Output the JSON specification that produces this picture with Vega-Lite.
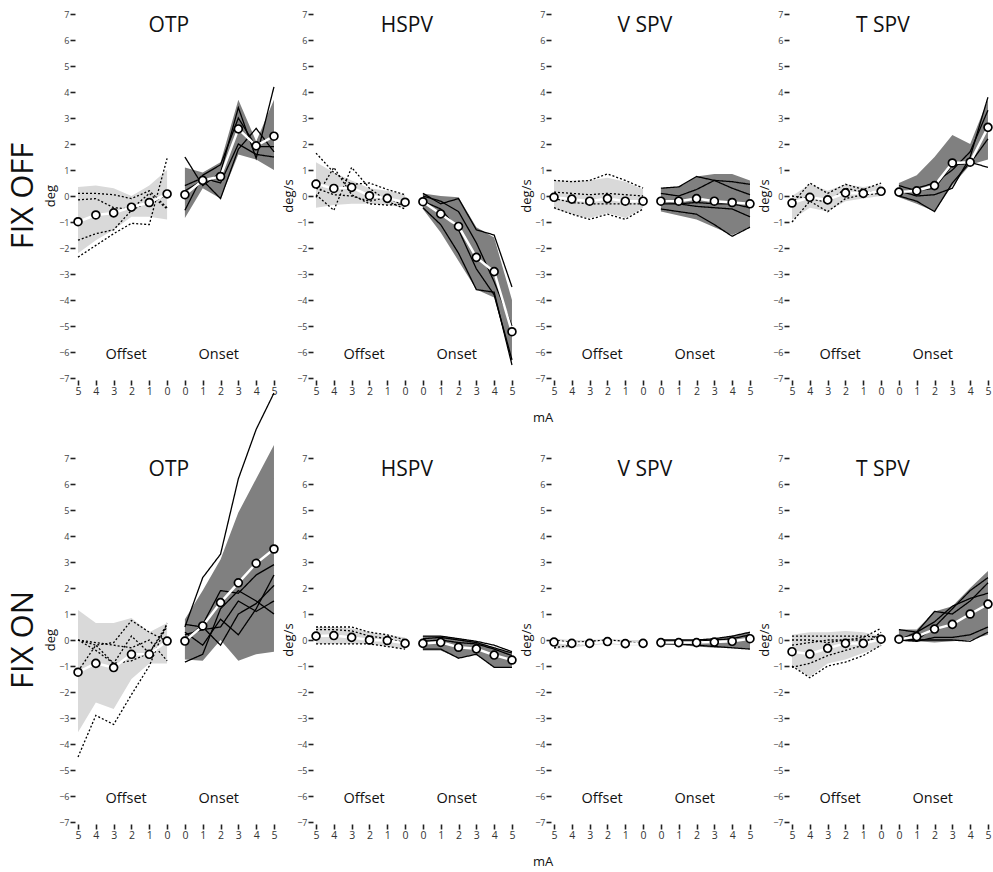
{
"$schema": "https://vega.github.io/schema/vega-lite/v6.json",
"padding": {"left": 7, "top": 10, "right": 5, "bottom": 5},
"background": "white",
"config": {"font": "Open Sans", "view": {"stroke": null},
 "axisY": {"values": [-7,-6,-5,-4,-3,-2,-1,0,1,2,3,4,5,6,7], "domain": false, "grid": false, "tickSize": 5, "tickWidth": 1.6, "tickColor": "#222", "labelFontSize": 9, "labelColor": "#444", "labelPadding": 1}
},
"datasets": {"d": [
{"c":"OFF","p":"OTP","s":"off","x":0,"m":-0.99,"lo":-2.2,"hi":0.35,"l1":0.1,"l2":-0.15,"l3":-1.7,"l4":-2.35},
{"c":"OFF","p":"OTP","s":"off","x":1,"m":-0.73,"lo":-1.7,"hi":0.4,"l1":0.1,"l2":-0.1,"l3":-1.45,"l4":-1.9},
{"c":"OFF","p":"OTP","s":"off","x":2,"m":-0.65,"lo":-1.3,"hi":0.3,"l1":0.05,"l2":-0.45,"l3":-1.3,"l4":-1.45},
{"c":"OFF","p":"OTP","s":"off","x":3,"m":-0.43,"lo":-0.8,"hi":0.0,"l1":-0.1,"l2":-0.5,"l3":-0.55,"l4":-1.05},
{"c":"OFF","p":"OTP","s":"off","x":4,"m":-0.25,"lo":-0.8,"hi":0.4,"l1":0.2,"l2":0.1,"l3":-0.2,"l4":-1.1},
{"c":"OFF","p":"OTP","s":"off","x":5,"m":0.08,"lo":-0.9,"hi":1.0,"l1":-0.45,"l2":-0.5,"l3":0.0,"l4":1.45},
{"c":"OFF","p":"OTP","s":"on","x":6,"m":0.05,"lo":-0.85,"hi":1.1,"l1":1.5,"l2":-0.55,"l3":0.2,"l4":0.4},
{"c":"OFF","p":"OTP","s":"on","x":7,"m":0.6,"lo":0.3,"hi":0.9,"l1":0.4,"l2":0.8,"l3":0.6,"l4":0.7},
{"c":"OFF","p":"OTP","s":"on","x":8,"m":0.75,"lo":-0.1,"hi":1.3,"l1":0.9,"l2":1.2,"l3":-0.1,"l4":0.5},
{"c":"OFF","p":"OTP","s":"on","x":9,"m":2.58,"lo":1.6,"hi":3.7,"l1":3.4,"l2":3.0,"l3":1.8,"l4":2.0},
{"c":"OFF","p":"OTP","s":"on","x":10,"m":1.93,"lo":1.4,"hi":2.1,"l1":1.45,"l2":1.9,"l3":2.6,"l4":1.6},
{"c":"OFF","p":"OTP","s":"on","x":11,"m":2.3,"lo":1.0,"hi":3.7,"l1":4.2,"l2":1.9,"l3":1.7,"l4":1.5},
{"c":"OFF","p":"HSPV","s":"off","x":0,"m":0.46,"lo":-0.45,"hi":1.3,"l1":1.65,"l2":0.05,"l3":-0.05,"l4":0.3},
{"c":"OFF","p":"HSPV","s":"off","x":1,"m":0.29,"lo":-0.35,"hi":0.9,"l1":0.9,"l2":-0.55,"l3":1.1,"l4":0.05},
{"c":"OFF","p":"HSPV","s":"off","x":2,"m":0.33,"lo":-0.3,"hi":0.6,"l1":0.45,"l2":1.1,"l3":0.05,"l4":0.0},
{"c":"OFF","p":"HSPV","s":"off","x":3,"m":0.01,"lo":-0.3,"hi":0.3,"l1":0.5,"l2":0.3,"l3":-0.3,"l4":-0.2},
{"c":"OFF","p":"HSPV","s":"off","x":4,"m":-0.09,"lo":-0.35,"hi":0.2,"l1":0.25,"l2":-0.2,"l3":-0.35,"l4":-0.05},
{"c":"OFF","p":"HSPV","s":"off","x":5,"m":-0.24,"lo":-0.45,"hi":0.05,"l1":0.05,"l2":-0.5,"l3":-0.3,"l4":-0.4},
{"c":"OFF","p":"HSPV","s":"on","x":6,"m":-0.22,"lo":-0.5,"hi":0.1,"l1":0.1,"l2":-0.2,"l3":-0.45,"l4":0.0},
{"c":"OFF","p":"HSPV","s":"on","x":7,"m":-0.69,"lo":-1.4,"hi":0.0,"l1":-0.3,"l2":-0.5,"l3":-1.1,"l4":-0.2},
{"c":"OFF","p":"HSPV","s":"on","x":8,"m":-1.17,"lo":-2.5,"hi":-0.05,"l1":-0.1,"l2":-1.3,"l3":-2.2,"l4":-0.6},
{"c":"OFF","p":"HSPV","s":"on","x":9,"m":-2.36,"lo":-3.6,"hi":-1.2,"l1":-1.3,"l2":-2.8,"l3":-3.6,"l4":-1.8},
{"c":"OFF","p":"HSPV","s":"on","x":10,"m":-2.91,"lo":-3.9,"hi":-1.6,"l1":-1.5,"l2":-3.8,"l3":-3.7,"l4":-3.3},
{"c":"OFF","p":"HSPV","s":"on","x":11,"m":-5.22,"lo":-6.4,"hi":-4.0,"l1":-3.5,"l2":-6.3,"l3":-6.5,"l4":-5.0},
{"c":"OFF","p":"V SPV","s":"off","x":0,"m":-0.05,"lo":-0.5,"hi":0.6,"l1":0.6,"l2":0.15,"l3":-0.1,"l4":-0.45},
{"c":"OFF","p":"V SPV","s":"off","x":1,"m":-0.12,"lo":-0.7,"hi":0.6,"l1":0.55,"l2":0.1,"l3":-0.25,"l4":-0.7},
{"c":"OFF","p":"V SPV","s":"off","x":2,"m":-0.2,"lo":-0.85,"hi":0.6,"l1":0.6,"l2":0.05,"l3":-0.3,"l4":-0.9},
{"c":"OFF","p":"V SPV","s":"off","x":3,"m":-0.1,"lo":-0.65,"hi":0.7,"l1":0.85,"l2":0.1,"l3":-0.3,"l4":-0.7},
{"c":"OFF","p":"V SPV","s":"off","x":4,"m":-0.2,"lo":-0.85,"hi":0.55,"l1":0.6,"l2":0.05,"l3":-0.3,"l4":-0.9},
{"c":"OFF","p":"V SPV","s":"off","x":5,"m":-0.2,"lo":-0.45,"hi":0.25,"l1":0.3,"l2":0.0,"l3":-0.3,"l4":-0.5},
{"c":"OFF","p":"V SPV","s":"on","x":6,"m":-0.2,"lo":-0.6,"hi":0.3,"l1":0.3,"l2":0.1,"l3":-0.3,"l4":-0.5,"l5":-0.2},
{"c":"OFF","p":"V SPV","s":"on","x":7,"m":-0.2,"lo":-0.75,"hi":0.35,"l1":0.35,"l2":0.0,"l3":-0.3,"l4":-0.6,"l5":-0.3},
{"c":"OFF","p":"V SPV","s":"on","x":8,"m":-0.1,"lo":-0.9,"hi":0.75,"l1":0.75,"l2":0.25,"l3":-0.25,"l4":-0.7,"l5":-0.4},
{"c":"OFF","p":"V SPV","s":"on","x":9,"m":-0.2,"lo":-1.2,"hi":0.85,"l1":0.6,"l2":0.6,"l3":-0.3,"l4":-1.1,"l5":-0.45},
{"c":"OFF","p":"V SPV","s":"on","x":10,"m":-0.25,"lo":-1.5,"hi":0.85,"l1":0.55,"l2":0.3,"l3":-0.3,"l4":-1.55,"l5":-0.5},
{"c":"OFF","p":"V SPV","s":"on","x":11,"m":-0.3,"lo":-1.2,"hi":0.6,"l1":0.45,"l2":0.05,"l3":-0.45,"l4":-1.2,"l5":-0.8},
{"c":"OFF","p":"T SPV","s":"off","x":0,"m":-0.27,"lo":-0.9,"hi":0.0,"l1":-1.0,"l2":-0.3,"l3":0.0},
{"c":"OFF","p":"T SPV","s":"off","x":1,"m":-0.05,"lo":-0.45,"hi":0.45,"l1":-0.2,"l2":0.5,"l3":-0.1},
{"c":"OFF","p":"T SPV","s":"off","x":2,"m":-0.15,"lo":-0.6,"hi":0.2,"l1":-0.6,"l2":0.1,"l3":-0.25},
{"c":"OFF","p":"T SPV","s":"off","x":3,"m":0.12,"lo":-0.2,"hi":0.45,"l1":-0.1,"l2":0.45,"l3":0.3},
{"c":"OFF","p":"T SPV","s":"off","x":4,"m":0.1,"lo":-0.1,"hi":0.35,"l1":0.05,"l2":0.25,"l3":0.15},
{"c":"OFF","p":"T SPV","s":"off","x":5,"m":0.18,"lo":0.0,"hi":0.45,"l1":0.1,"l2":0.5,"l3":0.15},
{"c":"OFF","p":"T SPV","s":"on","x":6,"m":0.15,"lo":-0.05,"hi":0.5,"l1":0.0,"l2":0.2,"l3":0.1,"l4":0.4},
{"c":"OFF","p":"T SPV","s":"on","x":7,"m":0.2,"lo":-0.3,"hi":0.8,"l1":-0.2,"l2":0.0,"l3":0.3,"l4":0.2},
{"c":"OFF","p":"T SPV","s":"on","x":8,"m":0.4,"lo":-0.6,"hi":1.5,"l1":-0.6,"l2":0.05,"l3":0.5,"l4":0.3},
{"c":"OFF","p":"T SPV","s":"on","x":9,"m":1.27,"lo":0.4,"hi":2.35,"l1":0.5,"l2":0.3,"l3":1.0,"l4":1.2},
{"c":"OFF","p":"T SPV","s":"on","x":10,"m":1.3,"lo":1.2,"hi":2.0,"l1":1.3,"l2":1.5,"l3":1.7,"l4":1.25},
{"c":"OFF","p":"T SPV","s":"on","x":11,"m":2.64,"lo":1.4,"hi":3.7,"l1":1.1,"l2":3.8,"l3":3.3,"l4":2.2},
{"c":"ON","p":"OTP","s":"off","x":0,"m":-1.24,"lo":-3.55,"hi":1.15,"l1":-4.5,"l2":0.0,"l3":-1.2,"l4":0.0,"l5":0.0},
{"c":"ON","p":"OTP","s":"off","x":1,"m":-0.9,"lo":-2.4,"hi":0.65,"l1":-2.9,"l2":-0.2,"l3":-0.2,"l4":-0.4,"l5":-0.1},
{"c":"ON","p":"OTP","s":"off","x":2,"m":-1.06,"lo":-2.65,"hi":0.65,"l1":-3.25,"l2":-0.1,"l3":-0.9,"l4":-0.9,"l5":-0.2},
{"c":"ON","p":"OTP","s":"off","x":3,"m":-0.55,"lo":-1.5,"hi":0.85,"l1":-2.1,"l2":0.75,"l3":0.15,"l4":-0.8,"l5":-0.3},
{"c":"ON","p":"OTP","s":"off","x":4,"m":-0.55,"lo":-0.9,"hi":0.3,"l1":-1.0,"l2":0.3,"l3":-0.5,"l4":-0.5,"l5":0.0},
{"c":"ON","p":"OTP","s":"off","x":5,"m":-0.04,"lo":-0.9,"hi":0.65,"l1":0.65,"l2":-0.05,"l3":0.6,"l4":0.5,"l5":-0.8},
{"c":"ON","p":"OTP","s":"on","x":6,"m":-0.04,"lo":-0.75,"hi":0.8,"l1":0.5,"l2":-0.85,"l3":0.6,"l4":0.3,"l5":0.0,"l6":0.2},
{"c":"ON","p":"OTP","s":"on","x":7,"m":0.54,"lo":-0.8,"hi":1.9,"l1":2.4,"l2":-0.55,"l3":0.5,"l4":-0.2,"l5":0.6,"l6":0.4},
{"c":"ON","p":"OTP","s":"on","x":8,"m":1.44,"lo":0.0,"hi":3.1,"l1":3.3,"l2":1.2,"l3":-0.2,"l4":0.8,"l5":1.9,"l6":0.5},
{"c":"ON","p":"OTP","s":"on","x":9,"m":2.2,"lo":-0.8,"hi":4.9,"l1":6.2,"l2":1.9,"l3":1.0,"l4":0.2,"l5":1.8,"l6":1.5},
{"c":"ON","p":"OTP","s":"on","x":10,"m":2.95,"lo":-0.55,"hi":6.2,"l1":8.1,"l2":1.5,"l3":1.4,"l4":1.2,"l5":2.5,"l6":1.1},
{"c":"ON","p":"OTP","s":"on","x":11,"m":3.5,"lo":-0.45,"hi":7.5,"l1":9.5,"l2":1.0,"l3":2.1,"l4":2.5,"l5":2.9,"l6":1.5},
{"c":"ON","p":"HSPV","s":"off","x":0,"m":0.15,"lo":-0.15,"hi":0.5,"l1":0.5,"l2":0.4,"l3":-0.15},
{"c":"ON","p":"HSPV","s":"off","x":1,"m":0.17,"lo":-0.15,"hi":0.5,"l1":0.5,"l2":0.4,"l3":-0.15},
{"c":"ON","p":"HSPV","s":"off","x":2,"m":0.1,"lo":-0.15,"hi":0.45,"l1":0.5,"l2":0.35,"l3":-0.15},
{"c":"ON","p":"HSPV","s":"off","x":3,"m":0.0,"lo":-0.15,"hi":0.3,"l1":0.3,"l2":0.15,"l3":-0.15},
{"c":"ON","p":"HSPV","s":"off","x":4,"m":-0.02,"lo":-0.25,"hi":0.2,"l1":0.2,"l2":0.05,"l3":-0.25},
{"c":"ON","p":"HSPV","s":"off","x":5,"m":-0.13,"lo":-0.35,"hi":0.1,"l1":0.0,"l2":-0.1,"l3":-0.35},
{"c":"ON","p":"HSPV","s":"on","x":6,"m":-0.13,"lo":-0.4,"hi":0.15,"l1":0.15,"l2":-0.05,"l3":-0.35,"l4":0.05},
{"c":"ON","p":"HSPV","s":"on","x":7,"m":-0.09,"lo":-0.4,"hi":0.15,"l1":0.15,"l2":0.0,"l3":-0.35,"l4":0.1},
{"c":"ON","p":"HSPV","s":"on","x":8,"m":-0.28,"lo":-0.7,"hi":0.05,"l1":0.05,"l2":-0.1,"l3":-0.7,"l4":0.0},
{"c":"ON","p":"HSPV","s":"on","x":9,"m":-0.34,"lo":-0.55,"hi":-0.05,"l1":-0.05,"l2":-0.15,"l3":-0.55,"l4":-0.1},
{"c":"ON","p":"HSPV","s":"on","x":10,"m":-0.58,"lo":-1.05,"hi":-0.3,"l1":-0.2,"l2":-0.35,"l3":-1.05,"l4":-0.3},
{"c":"ON","p":"HSPV","s":"on","x":11,"m":-0.77,"lo":-1.05,"hi":-0.5,"l1":-0.45,"l2":-0.6,"l3":-1.05,"l4":-0.5},
{"c":"ON","p":"V SPV","s":"off","x":0,"m":-0.08,"lo":-0.35,"hi":0.05,"l1":-0.3,"l2":0.0},
{"c":"ON","p":"V SPV","s":"off","x":1,"m":-0.13,"lo":-0.3,"hi":0.0,"l1":-0.2,"l2":-0.1},
{"c":"ON","p":"V SPV","s":"off","x":2,"m":-0.13,"lo":-0.2,"hi":0.0,"l1":-0.1,"l2":-0.05},
{"c":"ON","p":"V SPV","s":"off","x":3,"m":-0.06,"lo":-0.15,"hi":0.05,"l1":-0.05,"l2":0.0},
{"c":"ON","p":"V SPV","s":"off","x":4,"m":-0.14,"lo":-0.2,"hi":0.0,"l1":-0.15,"l2":-0.05},
{"c":"ON","p":"V SPV","s":"off","x":5,"m":-0.13,"lo":-0.2,"hi":0.0,"l1":-0.1,"l2":-0.15},
{"c":"ON","p":"V SPV","s":"on","x":6,"m":-0.1,"lo":-0.15,"hi":0.0,"l1":0.0,"l2":-0.15,"l3":-0.05},
{"c":"ON","p":"V SPV","s":"on","x":7,"m":-0.1,"lo":-0.2,"hi":0.0,"l1":0.0,"l2":-0.15,"l3":-0.05},
{"c":"ON","p":"V SPV","s":"on","x":8,"m":-0.1,"lo":-0.25,"hi":0.0,"l1":0.0,"l2":-0.2,"l3":-0.05},
{"c":"ON","p":"V SPV","s":"on","x":9,"m":-0.08,"lo":-0.3,"hi":0.05,"l1":0.05,"l2":-0.25,"l3":0.0},
{"c":"ON","p":"V SPV","s":"on","x":10,"m":-0.05,"lo":-0.3,"hi":0.15,"l1":0.15,"l2":-0.3,"l3":0.05},
{"c":"ON","p":"V SPV","s":"on","x":11,"m":0.05,"lo":-0.35,"hi":0.3,"l1":0.3,"l2":-0.35,"l3":0.2},
{"c":"ON","p":"T SPV","s":"off","x":0,"m":-0.45,"lo":-1.0,"hi":0.2,"l1":0.15,"l2":-0.2,"l3":-1.0,"l4":-1.05,"l5":0.0},
{"c":"ON","p":"T SPV","s":"off","x":1,"m":-0.54,"lo":-1.4,"hi":0.3,"l1":0.15,"l2":-0.1,"l3":-1.45,"l4":-0.9,"l5":0.0},
{"c":"ON","p":"T SPV","s":"off","x":2,"m":-0.32,"lo":-0.9,"hi":0.3,"l1":0.15,"l2":0.0,"l3":-1.0,"l4":-0.6,"l5":-0.1},
{"c":"ON","p":"T SPV","s":"off","x":3,"m":-0.13,"lo":-0.75,"hi":0.35,"l1":0.15,"l2":0.0,"l3":-0.85,"l4":-0.4,"l5":0.0},
{"c":"ON","p":"T SPV","s":"off","x":4,"m":-0.13,"lo":-0.5,"hi":0.3,"l1":0.15,"l2":0.1,"l3":-0.6,"l4":-0.2,"l5":0.0},
{"c":"ON","p":"T SPV","s":"off","x":5,"m":0.03,"lo":-0.25,"hi":0.15,"l1":0.1,"l2":0.45,"l3":-0.2,"l4":0.3,"l5":0.0},
{"c":"ON","p":"T SPV","s":"on","x":6,"m":0.03,"lo":-0.05,"hi":0.4,"l1":0.4,"l2":0.1,"l3":0.0,"l4":0.0,"l5":0.0},
{"c":"ON","p":"T SPV","s":"on","x":7,"m":0.13,"lo":-0.05,"hi":0.4,"l1":0.3,"l2":0.0,"l3":0.3,"l4":0.0,"l5":-0.05},
{"c":"ON","p":"T SPV","s":"on","x":8,"m":0.42,"lo":-0.1,"hi":1.1,"l1":1.1,"l2":0.5,"l3":0.7,"l4":0.0,"l5":0.1},
{"c":"ON","p":"T SPV","s":"on","x":9,"m":0.6,"lo":-0.05,"hi":1.3,"l1":1.0,"l2":1.2,"l3":1.3,"l4":0.0,"l5":0.1},
{"c":"ON","p":"T SPV","s":"on","x":10,"m":1.0,"lo":0.0,"hi":2.0,"l1":1.5,"l2":1.9,"l3":1.6,"l4":-0.05,"l5":0.2},
{"c":"ON","p":"T SPV","s":"on","x":11,"m":1.38,"lo":0.2,"hi":2.65,"l1":2.2,"l2":2.4,"l3":1.8,"l4":0.3,"l5":0.5}
]},
"data": {"name": "d"},
"facet": {
 "row": {"field": "c", "type": "nominal", "sort": ["OFF","ON"], "header": {"title": null, "labelExpr": "'FIX ' + datum.value", "labelAngle": 270, "labelOrient": "left", "labelFontSize": 31, "labelFont": "Open Sans", "labelColor": "#111", "labelPadding": 4}},
 "column": {"field": "p", "type": "nominal", "sort": ["OTP","HSPV","V SPV","T SPV"], "header": {"title": null, "labels": false}}
},
"spacing": {"row": 80, "column": 36},
"bounds": "flush",
"resolve": {"axis": {"x": "independent", "y": "independent"}},
"spec": {
 "width": 202, "height": 364,
 "encoding": {"x": {"field": "x", "type": "quantitative", "title": null, "scale": {"domain": [-0.17, 11.17], "nice": false, "zero": false},
   "axis": {"values": [0,1,2,3,4,5,6,7,8,9,10,11], "labelExpr": "datum.value <= 5 ? 5 - datum.value : datum.value - 6", "domain": false, "grid": false, "tickSize": 5, "tickWidth": 1.6, "tickColor": "#222", "labelFontSize": 10.5, "labelColor": "#333", "labelPadding": 1, "offset": 2, "labelFlush": false, "labelOverlap": false}}},
 "layer": [
  {"mark": {"type": "area", "opacity": 1}, "encoding": {"y": {"field": "lo", "type": "quantitative", "title": null, "scale": {"domain": [-7, 7], "nice": false, "zero": false}}, "y2": {"field": "hi"}, "color": {"field": "s", "type": "nominal", "scale": {"domain": ["off","on"], "range": ["#d9d9d9","#808080"]}, "legend": null}}},
  {"transform": [{"fold": ["l1","l2","l3","l4","l5","l6"], "as": ["k","v"]}, {"filter": {"field": "v", "valid": true}}],
   "mark": {"type": "line", "color": "black", "strokeWidth": 1.3},
   "encoding": {"y": {"field": "v", "type": "quantitative", "title": null}, "detail": [{"field": "k"}, {"field": "s"}], "strokeDash": {"field": "s", "type": "nominal", "scale": {"domain": ["off","on"], "range": [[2,2],[1,0]]}, "legend": null}}},
  {"mark": {"type": "line", "color": "white", "strokeWidth": 2.5}, "encoding": {"y": {"field": "m", "type": "quantitative", "title": null}, "detail": {"field": "s"}}},
  {"mark": {"type": "point", "shape": "circle", "filled": true, "fill": "white", "stroke": "black", "strokeWidth": 1.7, "size": 62, "opacity": 1}, "encoding": {"y": {"field": "m", "type": "quantitative", "title": null}}},
  {"transform": [{"filter": "datum.x === 0"}], "mark": {"type": "text", "fontSize": 21, "baseline": "top", "dy": 1, "color": "#111"}, "encoding": {"x": {"datum": 5.1}, "y": {"datum": 7}, "text": {"field": "p"}}},
  {"transform": [{"filter": "datum.x === 0"}], "mark": {"type": "text", "fontSize": 14.5, "baseline": "middle", "color": "#111", "text": "Offset"}, "encoding": {"x": {"datum": 2.7}, "y": {"datum": -6.1}}},
  {"transform": [{"filter": "datum.x === 0"}], "mark": {"type": "text", "fontSize": 14.5, "baseline": "middle", "color": "#111", "text": "Onset"}, "encoding": {"x": {"datum": 7.9}, "y": {"datum": -6.1}}},
  {"transform": [{"filter": "datum.x === 0"}], "mark": {"type": "text", "fontSize": 13, "angle": 270, "baseline": "middle", "color": "#111"}, "encoding": {"x": {"datum": -1.5}, "y": {"datum": 0}, "text": {"condition": {"test": "datum.p === 'OTP'", "value": "deg"}, "value": "deg/s"}}},
  {"transform": [{"filter": "datum.x === 0 && datum.p === 'HSPV'"}], "mark": {"type": "text", "fontSize": 13, "baseline": "middle", "color": "#111", "text": "mA"}, "encoding": {"x": {"datum": 12.75}, "y": {"datum": -8.55}}}
 ]
}
}
